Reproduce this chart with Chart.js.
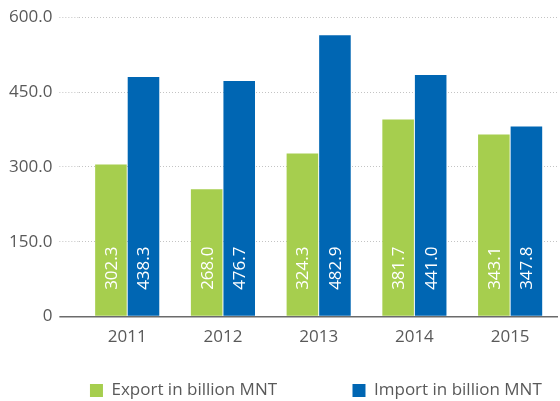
<!DOCTYPE html>
<html><head><meta charset="utf-8">
<style>html,body{margin:0;padding:0;background:#fff;}#wrap{width:560px;height:401px;}</style>
</head><body><div id="wrap"><canvas id="c" width="560" height="401"></canvas></div>
<script src="https://cdn.jsdelivr.net/npm/chart.js@4/dist/chart.umd.min.js"></script>
<script>
const categories = ['2011', '2012', '2013', '2014', '2015'];
const seriesNames = ['Export in billion MNT', 'Import in billion MNT'];
const exportValues = [305, 255, 327, 395, 365];
const importValues = [480, 472, 564, 484, 381];
const exportLabels = ['302.3', '268.0', '324.3', '381.7', '343.1'];
const importLabels = ['438.3', '476.7', '482.9', '441.0', '347.8'];
const yTickLabels = ['0', '150.0', '300.0', '450.0', '600.0'];

const GREEN = '#A6CE4E', BLUE = '#0066B3', TEXT = '#595959', GRID = '#c4c4c4';
const FONT = "'Open Sans', 'Noto Sans', sans-serif";
const isZero = c => c.tick && c.tick.value === 0;

const barLabels = {
  id: 'barLabels',
  afterDatasetsDraw(chart) {
    const ctx = chart.ctx;
    const texts = [exportLabels, importLabels];
    ctx.save();
    ctx.fillStyle = '#ffffff';
    ctx.font = '17px ' + FONT;
    ctx.textAlign = 'left';
    ctx.textBaseline = 'middle';
    chart.data.datasets.forEach((ds, di) => {
      chart.getDatasetMeta(di).data.forEach((bar, i) => {
        ctx.save();
        ctx.translate(bar.x + 1, bar.base - 26);
        ctx.rotate(-Math.PI / 2);
        ctx.fillText(texts[di][i], 0, 0);
        ctx.restore();
      });
    });
    ctx.restore();
  }
};

new Chart(document.getElementById('c'), {
  type: 'bar',
  data: {
    labels: categories,
    datasets: [
      { label: seriesNames[0], data: exportValues, backgroundColor: GREEN },
      { label: seriesNames[1], data: importValues, backgroundColor: BLUE }
    ]
  },
  options: {
    responsive: false,
    devicePixelRatio: 1,
    animation: false,
    layout: { padding: { left: 2, right: 2, top: 0, bottom: 0 } },
    datasets: { bar: { categoryPercentage: 0.68, barPercentage: 0.97 } },
    scales: {
      x: {
        grid: { display: false, drawTicks: false },
        border: { display: false },
        ticks: { color: TEXT, font: { family: FONT, size: 17 }, padding: 10 },
        afterFit(scale) { scale.height += 22; }
      },
      y: {
        min: 0, max: 600,
        ticks: {
          stepSize: 150,
          color: TEXT,
          font: { family: FONT, size: 17 },
          padding: 7,
          callback: (v, i) => yTickLabels[i]
        },
        grid: {
          color: c => isZero(c) ? '#6b6b6b' : GRID,
          tickColor: c => isZero(c) ? '#6b6b6b' : GRID,
          lineWidth: c => isZero(c) ? 1.5 : 1,
          tickWidth: c => isZero(c) ? 1.5 : 1,
          tickLength: 20,
          tickBorderDash: c => isZero(c) ? [] : [1, 2]
        },
        border: { display: false, dash: c => isZero(c) ? [] : [1, 2] }
      }
    },
    plugins: {
      tooltip: { enabled: false },
      legend: {
        position: 'bottom',
        align: 'end',
        maxHeight: 22,
        labels: {
          boxWidth: 13,
          boxHeight: 13,
          padding: 3,
          color: TEXT,
          font: { family: FONT, size: 17 },
          generateLabels(chart) {
            const items = Chart.defaults.plugins.legend.labels.generateLabels(chart);
            items.forEach(it => { it.lineWidth = 0; });
            items[0].text = items[0].text + '\u2003\u2003\u2003\u2003 ';
            items[1].text = items[1].text + '   ';
            return items;
          }
        }
      }
    }
  },
  plugins: [barLabels]
});
</script>
</body></html>
